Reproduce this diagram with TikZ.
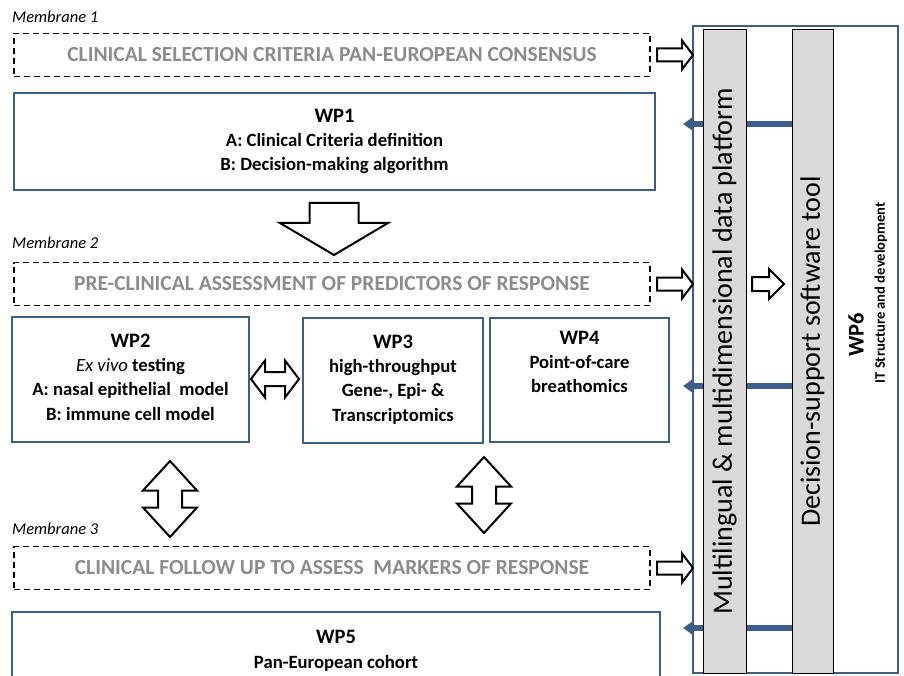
\documentclass[tikz,border=0pt]{standalone}
\usepackage{fontspec}
\setmainfont{Carlito}
\usetikzlibrary{arrows.meta,positioning,backgrounds}

\definecolor{wpblue}{HTML}{3B5E8C}
\definecolor{bargray}{HTML}{D9D9D9}
\definecolor{membgray}{HTML}{8C8C8C}

\tikzset{
  wpbox/.style={draw=wpblue, line width=2.6pt, inner sep=0pt, outer sep=0pt},
  membox/.style={draw, dash pattern=on 6pt off 4pt, line width=1.1pt, inner sep=0pt, outer sep=0pt,
    minimum width=636pt, minimum height=43pt, text=membgray, font=\bfseries\fontsize{21.5}{24}\selectfont},
  membtag/.style={anchor=west, inner sep=0pt, font=\itshape\fontsize{16.5}{18}\selectfont},
  wptext/.style={anchor=north, align=center, inner sep=0pt, font=\bfseries\fontsize{18.7}{24.3}\selectfont},
  barbox/.style={draw, fill=bargray, line width=1pt, rotate=90, inner sep=0pt, outer sep=0pt,
    minimum width=643pt, font=\fontsize{28}{30}\selectfont},
  hollow/.style={draw, line width=2pt, fill=white, line join=miter},
  feed/.style={wpblue, line width=5.5pt, -{Triangle[length=9pt,width=12pt]}},
  rightarrow/.pic={\draw[hollow] (-18,-6.5) -- (7,-6.5) -- (7,-14.5) -- (18,0) -- (7,14.5) -- (7,6.5) -- (-18,6.5) -- cycle;},
  updown/.pic={\draw[hollow] (0,-38) -- (27,-8.5) -- (12,-8.5) -- (12,8.5) -- (27,8.5) -- (0,38)
    -- (-27,8.5) -- (-12,8.5) -- (-12,-8.5) -- (-27,-8.5) -- cycle;},
  leftright/.pic={\draw[hollow] (-24,0) -- (-10,-18.5) -- (-10,-7) -- (10,-7) -- (10,-18.5) -- (24,0)
    -- (10,18.5) -- (10,7) -- (-10,7) -- (-10,18.5) -- cycle;}
}
\newcommand{\wptitle}[1]{{\fontsize{20.5}{24.3}\selectfont #1}}

\begin{document}
\begin{tikzpicture}[x=1pt, y=-1pt]
\useasboundingbox (0,0) rectangle (904,676);
\clip (0,0) rectangle (904,676);

% membranes
\node[membtag] (m1) at (12,17) {Membrane 1};
\node[membox] (crit) at (332,55) {CLINICAL SELECTION CRITERIA PAN-EUROPEAN CONSENSUS};
\node[membtag] (m2) at (12,243) {Membrane 2};
\node[membox] (pre) at (332,284) {PRE-CLINICAL ASSESSMENT OF PREDICTORS OF RESPONSE};
\node[membtag] (m3) at (12,529) {Membrane 3};
\node[membox] (follow) at (332,568) {CLINICAL FOLLOW UP TO ASSESS~ MARKERS OF RESPONSE};

% work packages
\node[wpbox, minimum width=641pt, minimum height=97pt] (wp1) at (334.5,141.5) {};
\node[wptext, below=15.5pt of wp1.north] (wp1t) {\wptitle{WP1}\\A: Clinical Criteria definition\\B: Decision-making algorithm};

\node[wpbox, minimum width=237pt, minimum height=125pt] (wp2) at (130.5,379.5) {};
\node[wptext, below=16.5pt of wp2.north] (wp2t) {\wptitle{WP2}\\\textmd{\textit{Ex vivo}} testing\\A: nasal epithelial~ model\\B: immune cell model};

\node[wpbox, minimum width=180pt, minimum height=125pt] (wp3) at (393,380.5) {};
\node[wptext, below=16.5pt of wp3.north] (wp3t) {\wptitle{WP3}\\high-throughput\\Gene-, Epi- \&\\Transcriptomics};

\node[wpbox, minimum width=179pt, minimum height=124pt] (wp4) at (579.5,380) {};
\node[wptext, below=12.5pt of wp4.north] (wp4t) {\wptitle{WP4}\\Point-of-care\\breathomics};

\node[wpbox, minimum width=648pt, minimum height=100pt] (wp5) at (336,662) {};
\node[wptext, below=18.5pt of wp5.north] (wp5t) {\wptitle{WP5}\\Pan-European cohort};

% WP6 panel
\node[wpbox, minimum width=205pt, minimum height=647pt] (wp6) at (795.5,349.5) {};
\node[barbox, minimum height=43pt] (platform) at (724.5,351.5) {Multilingual \& multidimensional data platform};
\node[barbox, minimum height=41pt] (tool) at (812.5,351.5) {Decision-support software tool};
\node[rotate=90, inner sep=0pt, font=\bfseries\fontsize{22.5}{24}\selectfont] (wp6t) at (856,335) {WP6};
\node[rotate=90, inner sep=0pt, font=\bfseries\fontsize{14.6}{16}\selectfont] (wp6s) at (881,293) {IT Structure and development};

\coordinate (t1) at (683,124);
\coordinate (t2) at (683,386);
\coordinate (t3) at (683,628);
\begin{pgfonlayer}{background}
\foreach \t in {t1,t2,t3}
  \draw[feed] (tool.north |- \t) -- (\t);
\end{pgfonlayer}

% block arrows
\foreach \m in {crit,pre,follow}
  \pic at ([xshift=25pt]\m.east) {rightarrow};
\draw[hollow] (752,277) -- (769,277) -- (769,269) -- (784,284) -- (769,299) -- (769,291) -- (752,291) -- cycle;
\draw[hollow] (309.5,203) -- (358.5,203) -- (358.5,223) -- (388,223) -- (334,255) -- (280,223) -- (309.5,223) -- cycle;
\pic at (275,379) {leftright};
\pic at (170,499) {updown};
\pic at (484,495) {updown};
\end{tikzpicture}
\end{document}
